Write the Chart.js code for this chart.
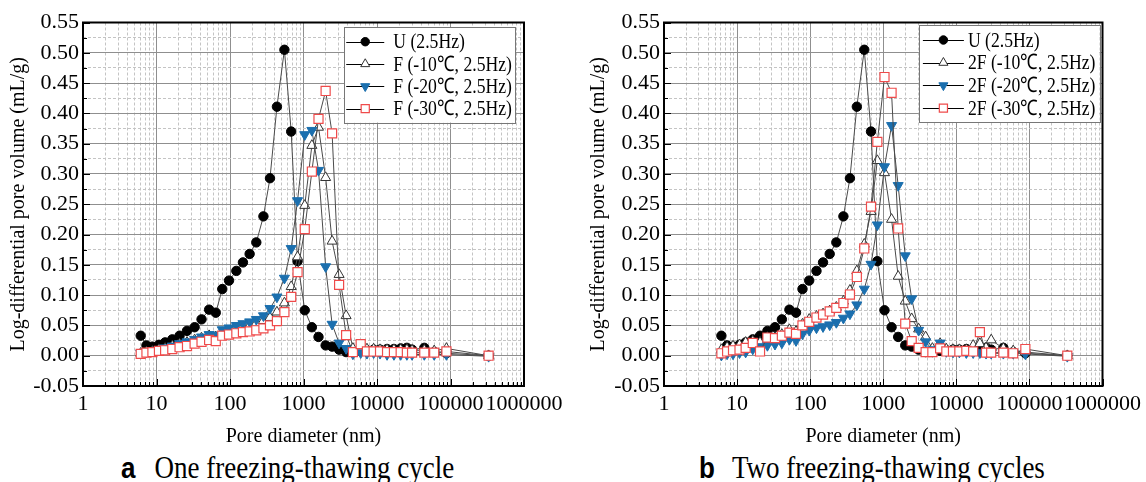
<!DOCTYPE html>
<html><head><meta charset="utf-8">
<script src="https://cdn.jsdelivr.net/npm/chart.js@4/dist/chart.umd.min.js"></script>
<style>
html,body{margin:0;padding:0;background:#fff;width:1146px;height:482px;overflow:hidden;position:relative;}
canvas{position:absolute;top:0;}
#c1{left:0;}
#c2{left:573px;}
.cap{position:absolute;top:456px;font-family:'Liberation Serif','Times New Roman',serif;font-size:27px;line-height:27px;white-space:nowrap;color:#000;transform:scaleY(1.13);transform-origin:0 22.6px;}
.cap b{font-family:'Liberation Sans',Arial,sans-serif;font-weight:bold;font-size:26px;}
</style></head><body>
<canvas id="c1" width="573" height="450"></canvas>
<canvas id="c2" width="573" height="450"></canvas>
<div class="cap" style="left:121px"><b>a</b><span style="margin-left:19px">One freezing-thawing cycle</span></div>
<div class="cap" style="left:699px"><b>b</b><span style="margin-left:17px">Two freezing-thawing cycles</span></div>
<script>
// ---------- data ----------
const poreDiameter = [6.1, 7.3, 8.8, 10.8, 13.1, 16.4, 20.6, 26, 33, 41, 52, 64, 78.5, 97, 122, 150, 185, 228, 285, 350, 435, 550, 680, 830, 1040, 1300, 1600, 2000, 2450, 3050, 3800, 4700, 6000, 7300, 9000, 11000, 13700, 17000, 21000, 25500, 30000, 44000, 60000, 88000, 330000];

const uValues = [0.033, 0.017, 0.015, 0.018, 0.022, 0.027, 0.033, 0.041, 0.047, 0.060, 0.076, 0.071, 0.110, 0.124, 0.140, 0.154, 0.168, 0.187, 0.230, 0.293, 0.411, 0.505, 0.370, 0.156, 0.075, 0.047, 0.031, 0.017, 0.015, 0.010, 0.006, 0.006, 0.008, 0.009, 0.010, 0.010, 0.011, 0.011, 0.012, 0.013, 0.010, 0.013, 0.006, 0.004, 0.000];

const oneF10 = [0.004, 0.006, 0.007, 0.010, 0.012, 0.016, 0.019, 0.022, 0.026, 0.029, 0.033, 0.031, 0.038, 0.041, 0.044, 0.047, 0.050, 0.054, 0.058, 0.063, 0.072, 0.087, 0.114, 0.163, 0.248, 0.347, 0.377, 0.294, 0.189, 0.134, 0.066, 0.012, 0.012, 0.011, 0.011, 0.010, 0.010, 0.010, 0.010, 0.010, 0.009, 0.009, 0.008, 0.012, 0.000];
const oneF20 = [0.004, 0.006, 0.008, 0.010, 0.013, 0.016, 0.020, 0.023, 0.027, 0.031, 0.035, 0.034, 0.043, 0.046, 0.050, 0.053, 0.056, 0.060, 0.066, 0.078, 0.097, 0.128, 0.177, 0.256, 0.365, 0.372, 0.306, 0.147, 0.052, 0.021, 0.012, 0.003, 0.005, 0.004, 0.005, 0.004, 0.002, 0.002, 0.002, 0.002, 0.002, 0.002, 0.002, 0.002, -0.001];
const oneF30 = [0.003, 0.005, 0.006, 0.008, 0.009, 0.011, 0.014, 0.016, 0.020, 0.023, 0.026, 0.024, 0.033, 0.035, 0.037, 0.039, 0.040, 0.042, 0.045, 0.050, 0.057, 0.072, 0.097, 0.138, 0.209, 0.304, 0.391, 0.437, 0.367, 0.117, 0.034, 0.006, 0.019, 0.007, 0.007, 0.007, 0.006, 0.006, 0.006, 0.005, 0.005, 0.005, 0.005, 0.007, 0.000];

const twoF10 = [0.010, 0.014, 0.016, 0.018, 0.022, 0.024, 0.022, 0.030, 0.030, 0.035, 0.043, 0.040, 0.052, 0.060, 0.065, 0.069, 0.074, 0.080, 0.090, 0.108, 0.140, 0.184, 0.238, 0.322, 0.302, 0.225, 0.131, 0.090, 0.061, 0.044, 0.031, 0.012, 0.020, 0.011, 0.010, 0.010, 0.010, 0.017, 0.020, 0.013, 0.026, 0.012, 0.008, 0.006, 0.000];
const twoF20 = [0.001, 0.003, 0.003, 0.005, 0.006, 0.011, 0.015, 0.017, 0.019, 0.021, 0.027, 0.025, 0.036, 0.042, 0.046, 0.048, 0.051, 0.055, 0.062, 0.069, 0.084, 0.110, 0.151, 0.216, 0.312, 0.380, 0.281, 0.165, 0.094, 0.042, 0.023, 0.010, 0.021, 0.007, 0.006, 0.006, 0.005, 0.005, 0.005, 0.004, 0.004, 0.004, 0.004, 0.003, -0.001];
const twoF30 = [0.004, 0.007, 0.009, 0.010, 0.013, 0.021, 0.007, 0.030, 0.029, 0.033, 0.038, 0.036, 0.050, 0.056, 0.063, 0.068, 0.073, 0.079, 0.087, 0.101, 0.130, 0.177, 0.246, 0.353, 0.460, 0.434, 0.210, 0.053, 0.024, 0.013, 0.006, 0.006, 0.012, 0.007, 0.007, 0.007, 0.008, 0.007, 0.039, 0.005, 0.005, 0.005, 0.004, 0.011, 0.000];

const labelsOne = ['U (2.5Hz)', 'F (-10\u2103, 2.5Hz)', 'F (-20\u2103, 2.5Hz)', 'F (-30\u2103, 2.5Hz)'];
const labelsTwo = ['U (2.5Hz)', '2F (-10\u2103, 2.5Hz)', '2F (-20\u2103, 2.5Hz)', '2F (-30\u2103, 2.5Hz)'];

const xTitle = 'Pore diameter (nm)';
const yTitle = 'Log-differential pore volume (mL/g)';

// ---------- helpers ----------
const SERIF = "'Liberation Serif','Times New Roman',serif";
const isPow10 = v => { const l = Math.log10(v); return Math.abs(l - Math.round(l)) < 1e-9; };
const pts = vals => poreDiameter.map((x, i) => ({x: x, y: vals[i]}));

const styles = [
  {pointStyle: 'circle', pointRadius: 4.7, pointBackgroundColor: '#000', pointBorderColor: '#000', pointBorderWidth: 1, order: 3},
  {pointStyle: 'triangle', pointRadius: 5.8, pointBackgroundColor: '#fff', pointBorderColor: '#333', pointBorderWidth: 1, order: 2},
  {pointStyle: 'triangle', pointRotation: 180, pointRadius: 5.8, pointBackgroundColor: '#1b6fae', pointBorderColor: '#1b6fae', pointBorderWidth: 1, order: 1},
  {pointStyle: 'rect', pointRadius: 6.4, pointBackgroundColor: '#fff', pointBorderColor: '#ef4b4b', pointBorderWidth: 1.2, order: 0}
];

const frameTicks = {
  id: 'frameTicks',
  afterDraw(chart) {
    const {ctx, chartArea: a, scales: {x, y}} = chart;
    ctx.save();
    ctx.strokeStyle = '#000';
    ctx.lineWidth = 1;
    ctx.beginPath();
    x.ticks.forEach(t => {
      const px = Math.round(x.getPixelForValue(t.value)) + 0.5;
      const len = isPow10(t.value) ? 7 : 4;
      ctx.moveTo(px, a.bottom); ctx.lineTo(px, a.bottom - len);
    });
    y.ticks.forEach((t, i) => {
      const py = Math.round(y.getPixelForValue(t.value)) + 0.5;
      const len = i % 2 === 0 ? 7 : 4;
      ctx.moveTo(a.left, py); ctx.lineTo(a.left + len, py);
    });
    ctx.stroke();
    ctx.lineWidth = 2;
    ctx.strokeRect(a.left, a.top, a.right - a.left, a.bottom - a.top);
    ctx.restore();
  }
};

const boxLegend = {
  id: 'boxLegend',
  afterDraw(chart, args, o) {
    const ctx = chart.ctx, a = chart.chartArea;
    ctx.save();
    ctx.font = o.font;
    const ds = chart.data.datasets;
    const tw = Math.max(...ds.map(d => ctx.measureText(d.label).width)) * o.sx;
    const w = o.padL + o.lineLen + o.gap + tw + o.padR;
    const right = a.right - o.rightGap, left = right - w, top = a.top + o.topGap;
    const h = o.rowStart + o.rowGap * (ds.length - 1) + o.rowEnd;
    ctx.fillStyle = '#fff';
    ctx.fillRect(left, top, w, h);
    ctx.strokeStyle = '#777'; ctx.lineWidth = 1;
    ctx.strokeRect(Math.round(left) + 0.5, Math.round(top) + 0.5, Math.round(w), Math.round(h));
    ds.forEach((d, i) => {
      const yy = top + o.rowStart + o.rowGap * i;
      const x0 = left + o.padL, x1 = x0 + o.lineLen, xm = (x0 + x1) / 2;
      ctx.strokeStyle = '#000'; ctx.lineWidth = 1;
      ctx.beginPath(); ctx.moveTo(x0, Math.round(yy) + 0.5); ctx.lineTo(x1, Math.round(yy) + 0.5); ctx.stroke();
      ctx.fillStyle = d.pointBackgroundColor; ctx.strokeStyle = d.pointBorderColor; ctx.lineWidth = d.pointBorderWidth;
      Chart.helpers.drawPoint(ctx, {pointStyle: d.pointStyle, rotation: d.pointRotation || 0, radius: d.pointRadius * 0.9, borderWidth: d.pointBorderWidth}, xm, yy);
      ctx.fillStyle = '#000'; ctx.textBaseline = 'middle'; ctx.textAlign = 'left';
      ctx.save();
      ctx.translate(x1 + o.gap, yy + 1);
      ctx.scale(o.sx, o.sy);
      ctx.fillText(d.label, 0, 0);
      ctx.restore();
    });
    ctx.restore();
  }
};

function makeChart(id, seriesList, labels, lay) {
  const datasets = seriesList.map((vals, i) => Object.assign({
    label: labels[i],
    data: pts(vals),
    showLine: true,
    borderColor: '#4a4a4a',
    borderWidth: 1,
    tension: 0
  }, styles[i]));
  return new Chart(document.getElementById(id), {
    type: 'scatter',
    data: {datasets},
    plugins: [frameTicks, boxLegend],
    options: {
      responsive: false,
      animation: false,
      events: [],
      layout: {padding: {left: 0, top: 22.5, right: lay.padRight, bottom: 0}},
      plugins: {
        legend: {display: false},
        tooltip: {enabled: false},
        boxLegend: lay.legend
      },
      scales: {
        x: {
          type: 'logarithmic', min: 1, max: 1000000,
          afterBuildTicks: s => {
            const t = [];
            for (let e = 0; e < 6; e++) for (let m = 1; m < 10; m++) t.push({value: m * Math.pow(10, e)});
            t.push({value: 1000000});
            s.ticks = t;
          },
          afterFit: s => { s.height = 64; },
          ticks: {
            autoSkip: false, maxRotation: 0, minRotation: 0, padding: 5, color: '#000',
            font: {family: SERIF, size: 22},
            callback: v => isPow10(v) ? String(Math.round(v)) : ''
          },
          grid: {
            drawTicks: false, lineWidth: 1,
            color: c => (c.tick && isPow10(c.tick.value)) ? '#8f8f8f' : '#c4c4c4'
          },
          border: {display: false, dash: c => (c.tick && !isPow10(c.tick.value)) ? [3, 2] : []},
          title: {display: true, text: xTitle, color: '#000', font: {family: SERIF, size: 20}, padding: {top: 0, bottom: 1}}
        },
        y: {
          min: -0.05, max: 0.55,
          afterBuildTicks: s => {
            const t = [];
            for (let i = 0; i <= 24; i++) t.push({value: Math.round((-0.05 + i * 0.025) * 1000) / 1000});
            s.ticks = t;
          },
          afterFit: s => { s.width = lay.yWidth; },
          ticks: {
            padding: 4, color: '#000', autoSkip: false,
            font: {family: SERIF, size: 22},
            callback: (v, i) => i % 2 === 0 ? v.toFixed(2) : ''
          },
          grid: {
            drawTicks: false, lineWidth: 1,
            color: c => (c.index % 2 === 0) ? '#8f8f8f' : '#c4c4c4'
          },
          border: {display: false, dash: c => (c.tick && c.index % 2 === 1) ? [3, 2] : []},
          title: {display: true, text: yTitle, color: '#000', font: {family: SERIF, size: 20}, padding: {top: lay.yTitlePad, bottom: 0}}
        }
      }
    }
  });
}

makeChart('c1', [uValues, oneF10, oneF20, oneF30], labelsOne, {
  padRight: 49, yWidth: 83, yTitlePad: 7,
  legend: {font: "19px " + SERIF, sx: 0.93, sy: 1.12, rightGap: 9, topGap: 4.5, padL: 2, lineLen: 38, gap: 9, padR: 3, rowStart: 14.7, rowGap: 22.3, rowEnd: 14}
});
makeChart('c2', [uValues, twoF10, twoF20, twoF30], labelsTwo, {
  padRight: 39, yWidth: 91, yTitlePad: 14,
  legend: {font: "19px " + SERIF, sx: 0.93, sy: 1.12, rightGap: 3, topGap: 2.5, padL: 4, lineLen: 41, gap: 4, padR: 4, rowStart: 15, rowGap: 22.7, rowEnd: 14}
});
</script>
</body></html>
